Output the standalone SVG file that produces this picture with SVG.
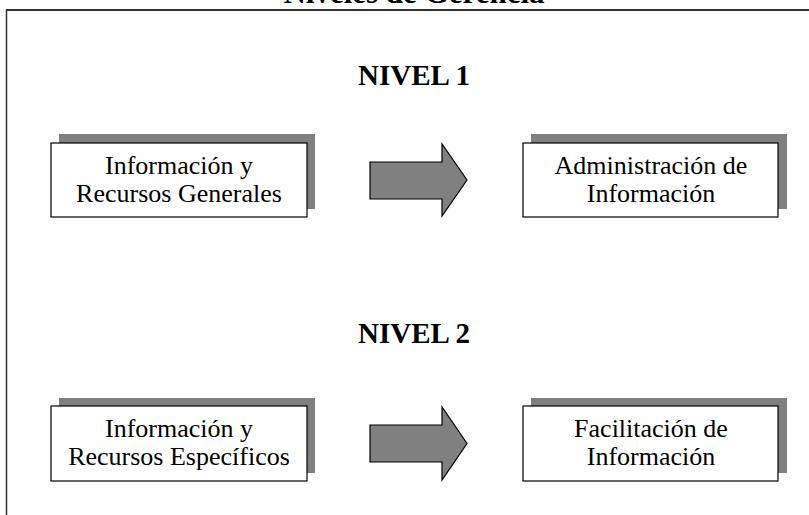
<svg xmlns="http://www.w3.org/2000/svg" width="809" height="515" viewBox="0 0 809 515">
<style>
.t{font-family:"Liberation Serif","Times New Roman",serif;fill:#000;text-anchor:middle}
.lbl{font-size:26px}
.hd{font-size:29px;font-weight:bold}
.box{fill:#fff;stroke:#000;stroke-width:1.2}
.sh{fill:#808080}
.arr{fill:#808080;stroke:#000;stroke-width:1.2;stroke-linejoin:miter}
</style>
<rect width="809" height="515" fill="#fff"/>
<g id="frame">
<line x1="6" y1="10" x2="809" y2="10" stroke="#333" stroke-width="2"/>
<line x1="6.5" y1="10" x2="6.5" y2="515" stroke="#333" stroke-width="1.5"/>
</g>
<text class="t" x="414" y="3" style="font-size:31px;font-weight:bold">Niveles de Gerencia</text>
<text class="t hd" x="414" y="85">NIVEL 1</text>
<text class="t hd" x="414" y="343">NIVEL 2</text>
<g id="n1">
<rect class="sh" x="59" y="134" width="256" height="75"/>
<rect class="box" x="51" y="143" width="256" height="74"/>
<text class="t lbl" x="179" y="174">Información y</text>
<text class="t lbl" x="179" y="202">Recursos Generales</text>
</g>
<g id="n2">
<rect class="sh" x="531" y="134" width="256" height="75"/>
<rect class="box" x="523" y="143" width="255" height="74"/>
<text class="t lbl" x="651" y="174">Administración de</text>
<text class="t lbl" x="651" y="202">Información</text>
</g>
<g id="n3">
<rect class="sh" x="59" y="398" width="256" height="75"/>
<rect class="box" x="51" y="406" width="256" height="75"/>
<text class="t lbl" x="179" y="437">Información y</text>
<text class="t lbl" x="179" y="465">Recursos Específicos</text>
</g>
<g id="n4">
<rect class="sh" x="531" y="398" width="256" height="75"/>
<rect class="box" x="523" y="406" width="255" height="75"/>
<text class="t lbl" x="651" y="437">Facilitación de</text>
<text class="t lbl" x="651" y="465">Información</text>
</g>
<g id="connectors">
<polygon class="arr" points="370,162 442,162 442,144 467,180 442,216 442,199 370,199"/>
<polygon class="arr" points="370,425 442,425 442,407 467,443.5 442,480 442,462 370,462"/>
</g>
</svg>
